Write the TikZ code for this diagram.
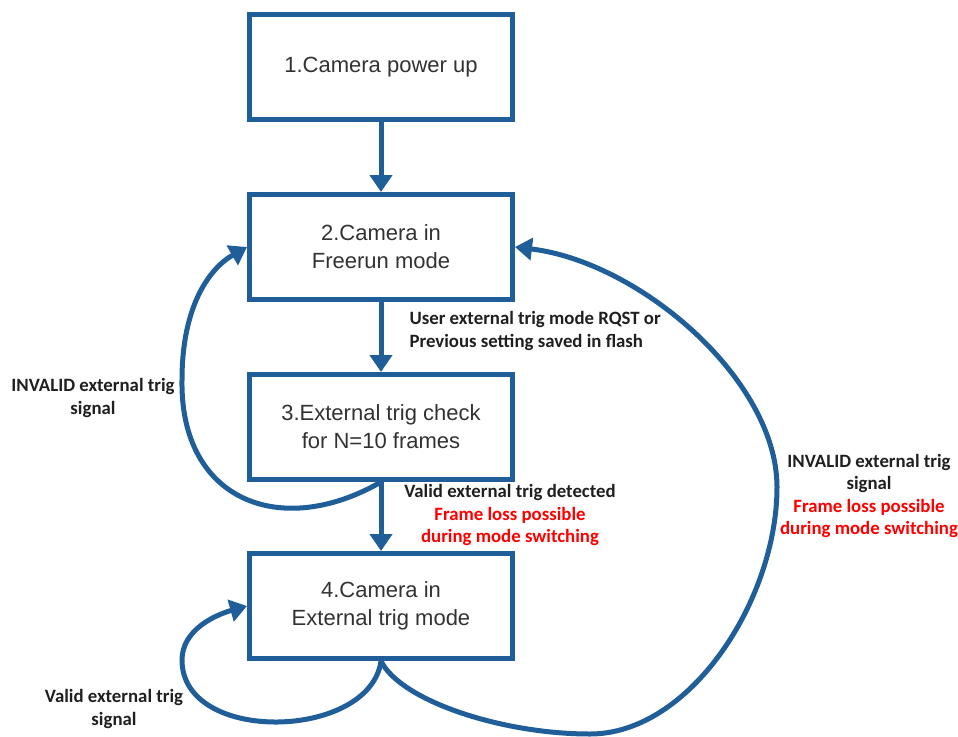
\documentclass[tikz,border=0pt]{standalone}
\usepackage{fontspec}
\setmainfont{Liberation Sans}
\newfontfamily\notefont{Carlito}
\usetikzlibrary{arrows.meta}
\definecolor{flowblue}{RGB}{31,94,153}
\definecolor{boxtext}{RGB}{50,50,50}
\definecolor{losstext}{RGB}{255,0,0}

\begin{document}
\begin{tikzpicture}[x=1pt,y=-1pt,
	state/.style={draw=flowblue,line width=5pt,minimum width=263pt,minimum height=105pt,
		align=center,text=boxtext,font=\fontsize{22}{28}\selectfont},
	note/.style={align=center,text=black!88,font=\notefont\bfseries\fontsize{18.8}{22.3}\selectfont},
	flow/.style={draw=flowblue,line width=5pt,-{Triangle[length=17pt,width=22pt]}}]
		\useasboundingbox (0,0) rectangle (958,736);
		% states
		\node[state] (A) at (381,67) {1.Camera power up};
		\node[state] (B) at (381,247) {2.Camera in\\Freerun mode};
		\node[state] (C) at (381,427) {3.External trig check\\for N=10 frames};
		\node[state] (D) at (381,606) {4.Camera in\\External trig mode};
		\draw[flow] (A.south)--(B.north);
		\draw[flow] (B.south)--(C.north);
		\draw[flow] (C.south)--(D.north);
		% loop back from the check
		\coordinate (P) at (182,380);
		\draw[flow] (C.south) .. controls (280,540) and (180,500) .. (P)
			.. controls (182,305) and (210,268) .. (B.west);
		% loop back from external trig mode
		\coordinate (Q1) at (590,734);
		\coordinate (Q2) at (777,487);
		\draw[flow] (D.south) .. controls (400,700) and (500,734) .. (Q1)
			.. controls (690,734) and (777,600) .. (Q2)
			.. controls (777,380) and (640,262) .. (B.east);
		% self loop
		\coordinate (R) at (182,660);
		\draw[flow] (D.south) .. controls (370,740) and (182,745) .. (R)
			.. controls (182,630) and (215,615) .. (D.west);
		% labels
		\node[note,anchor=west,align=left] (N1) at (406,331) {User external trig mode RQST or\\Previous setting saved in flash};
		\node[note] (N2) at (93,398) {INVALID external trig\\signal};
		\node[note] (N3) at (510,515) {Valid external trig detected\\\textcolor{losstext}{Frame loss possible}\\\textcolor{losstext}{during mode switching}};
		\node[note] (N4) at (869,496) {INVALID external trig\\signal\\\textcolor{losstext}{Frame loss possible}\\\textcolor{losstext}{during mode switching}};
		\node[note] (N5) at (114,709) {Valid external trig\\signal};
\end{tikzpicture}
\end{document}
